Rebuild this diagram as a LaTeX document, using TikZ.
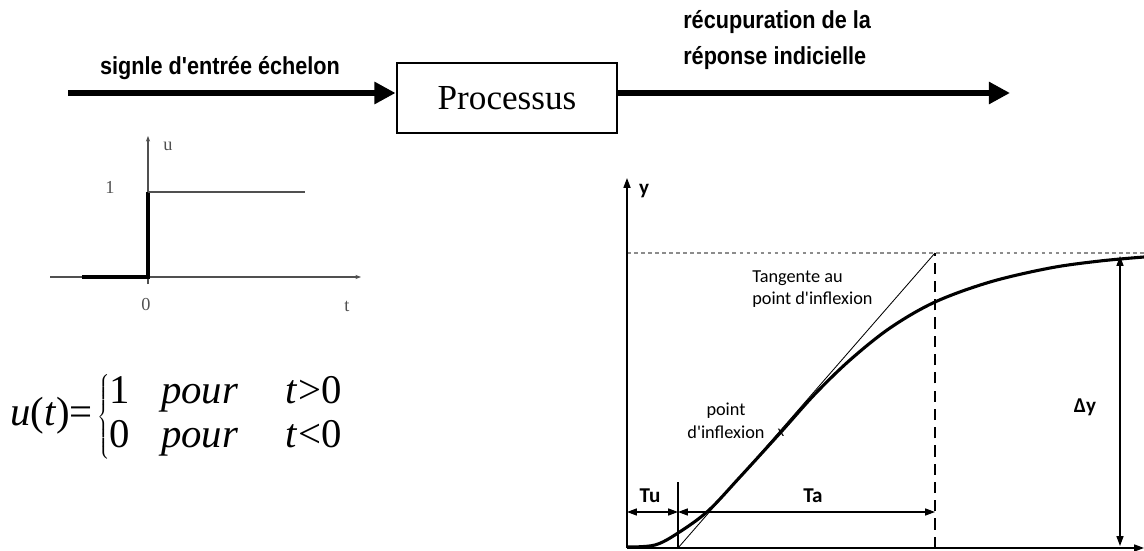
\documentclass[tikz,border=0pt]{standalone}
\usepackage{fontspec}
\setmainfont{Liberation Serif}
\newfontfamily\headfont[FakeStretch=0.88]{Liberation Sans}
\newfontfamily\notefont{Carlito}
\usetikzlibrary{arrows.meta,positioning,calc}
\definecolor{AxisGray}{RGB}{80,80,80}
\definecolor{DotGray}{RGB}{140,140,140}
\tikzset{
  flowarrow/.style={-{Triangle[length=15pt,width=15pt]},line width=4.2pt},
  procbox/.style={draw,line width=2pt,minimum width=5.5cm,minimum height=1.75cm,inner sep=0pt,font=\fontsize{25}{28}\selectfont},
  headlabel/.style={font=\headfont\bfseries\fontsize{17.5}{25}\selectfont,align=left,inner sep=0pt},
  stepaxis/.style={-{Stealth[length=4pt,width=3pt]},line width=0.9pt,draw=AxisGray},
  stepline/.style={line width=2.2pt},
  steplevel/.style={line width=1.1pt,draw=AxisGray},
  steplabel/.style={font=\fontsize{13}{15}\selectfont,inner sep=0pt,text=AxisGray},
  respaxis/.style={-{Triangle[length=7pt,width=5pt]},line width=1pt},
  respcurve/.style={line width=2.2pt,line join=round},
  tangentline/.style={line width=0.6pt},
  limitline/.style={line width=0.9pt,draw=DotGray,dash pattern=on 2.5pt off 2.5pt},
  taline/.style={line width=1pt,dash pattern=on 8pt off 5pt},
  dimarrow/.style={{Triangle[length=7pt,width=5pt]}-{Triangle[length=7pt,width=5pt]},line width=0.8pt},
  notelabel/.style={font=\notefont\fontsize{13}{16}\selectfont,align=left,inner sep=0pt},
  dimlabel/.style={font=\notefont\bfseries\fontsize{15}{17}\selectfont,inner sep=0pt}
}

\begin{document}
\begin{tikzpicture}[x=0.025cm,y=-0.025cm]
\useasboundingbox (0,0) rectangle (1144,551);
% chaine : entree -> processus -> sortie
\coordinate (in) at (68,93);
\coordinate (out) at (1010,93);
\node[procbox] (proc) at (507,98) {Processus\hspace{12pt}};
\draw[flowarrow] (in) -- (in -| proc.west);
\draw[flowarrow] (out -| proc.east) -- (out);
\node[headlabel] (inlabel) at (220,68) {signle d'entrée échelon};
\node[headlabel,anchor=west] (outlabel) at (683,40) {récupuration de la\\réponse indicielle};

% echelon unitaire
\coordinate (u0) at (148,277);
\coordinate (utop) at (148,136);
\coordinate (ubot) at (148,284);
\coordinate (tleft) at (50,277);
\coordinate (tright) at (361,277);
\coordinate (s0) at (82,277);
\coordinate (s1) at (148,192);
\coordinate (s2) at (305,192);
\draw[stepaxis] (ubot) -- (utop);\draw[stepaxis] (tleft) -- (tright);
\draw[stepline] (s0) -- (u0) -- (s1);\draw[steplevel] (s1) -- (s2);
\node[steplabel] (ulab) at (168,146) {u};
\node[steplabel] (onelab) at (110,187) {1};
\node[steplabel] (zerolab) at (146,305) {0};
\node[steplabel] (tlab) at (347,306) {t};

\node[anchor=west,inner sep=0pt,font=\fontsize{29}{33}\selectfont] (ueq) at (10,417)
  {\textit{u}(\textit{t})=\kern3pt$\left\{\mbox{\renewcommand{\arraystretch}{0.95}\begin{tabular}{@{}l@{\hspace{22pt}}l@{\hspace{34pt}}l@{}}1&\textit{pour}&\textit{t}>0\\0&\textit{pour}&\textit{t}<0\end{tabular}}\right.$};

% reponse indicielle
\coordinate (O) at (627,548);
\coordinate (ytop) at (627,178);
\coordinate (xend) at (1144,548);
\coordinate (lim) at (1144,253);
\coordinate (tu0) at (678,548);
\coordinate (tutop) at (678,482);
\coordinate (ta0) at (935,548);
\coordinate (tatop) at (935,253);
\coordinate (dyt) at (1120,256);
\coordinate (dyb) at (1120,546);
\coordinate (tuL) at (627,512);
\coordinate (tuR) at (678,512);
\coordinate (taR) at (935,512);
\draw[limitline] (O |- lim) -- (lim);
\draw[respaxis] (O) -- (ytop);\draw[respaxis] (O) -- (xend);
\draw[taline] (ta0) -- (tatop);
\draw[tangentline] (tu0) -- (tatop);
\draw[line width=0.8pt] (tu0) -- (tutop);
\draw[respcurve] plot[smooth,tension=0.55] coordinates {(628,547) (655,545) (678,533) (708,511) (740,477) (781,432) (815,394) (850,360) (890,328) (935,302) (990,282) (1050,268) (1100,261) (1144,257)};
\draw[dimarrow] (tuL) -- (tuR);\draw[dimarrow] (tuR) -- (taR);
\draw[dimarrow] (dyt) -- (dyb);

\node[dimlabel] (ylab) at (644,191) {y};
\node[dimlabel] (tulab) at (650,496) {Tu};
\node[dimlabel] (talab) at (813,496) {Ta};
\node[dimlabel] (dylab) at (1085,407) {Δy};
\node[notelabel,anchor=north west] (tglab) at (752,270) {Tangente au\\point d'inflexion};
\node[notelabel,align=center] (iplab) at (726,421) {point\\d'inflexion};
\node[font=\notefont\fontsize{11}{12}\selectfont,inner sep=0pt] (infl) at (781,433) {x};
\end{tikzpicture}
\end{document}
